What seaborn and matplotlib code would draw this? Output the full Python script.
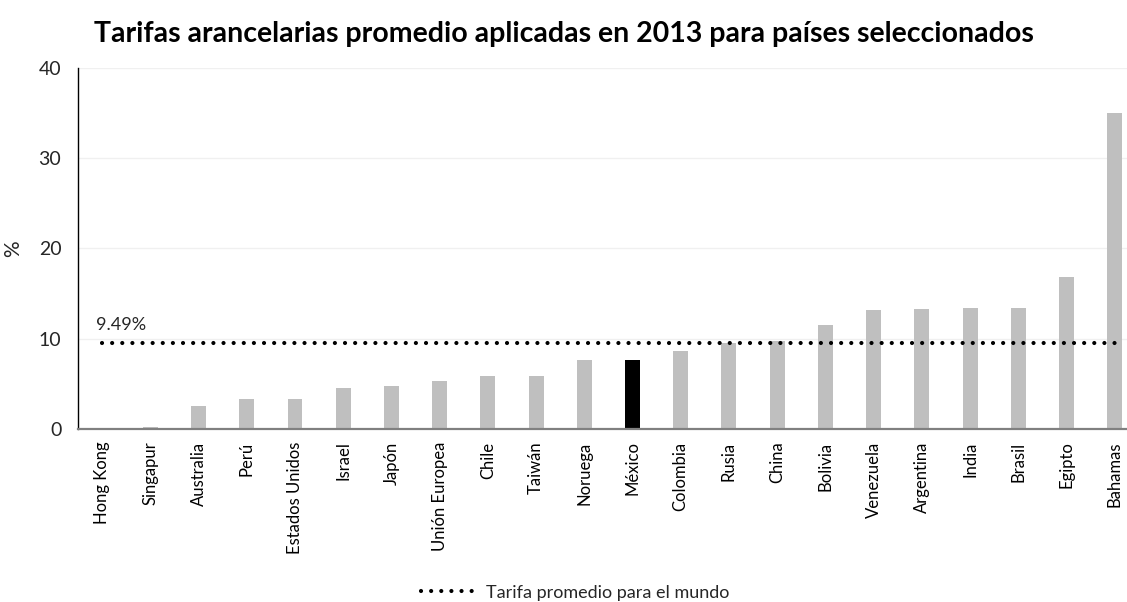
import matplotlib
matplotlib.use("Agg")
import matplotlib.pyplot as plt
from matplotlib.lines import Line2D
import seaborn as sns

# Average applied tariff rates, 2013 (%)
paises = ["Hong Kong", "Singapur", "Australia", "Perú", "Estados Unidos", "Israel",
          "Japón", "Unión Europea", "Chile", "Taiwán", "Noruega", "México",
          "Colombia", "Rusia", "China", "Bolivia", "Venezuela", "Argentina",
          "India", "Brasil", "Egipto", "Bahamas"]
tarifas = [0.0, 0.2, 2.6, 3.3, 3.3, 4.5, 4.75, 5.3, 5.9, 5.9, 7.6, 7.6,
           8.6, 9.5, 9.8, 11.5, 13.2, 13.3, 13.45, 13.45, 16.8, 35.0]
promedio_mundial = 9.49
destacado = "México"

titulo = "Tarifas arancelarias promedio aplicadas en 2013 para países seleccionados"
etiqueta_y = "%"
etiqueta_promedio = "9.49%"
etiqueta_leyenda = "Tarifa promedio para el mundo"
ticks_y = [0, 10, 20, 30, 40]

sns.set_theme(style="white")
plt.rcParams["font.family"] = ["Lato", "DejaVu Sans"]

fig = plt.figure(figsize=(11.27, 6.02), dpi=100)
ax = fig.add_axes([0.0692, 0.2874, 0.9413, 0.5997])

colores = {p: ("#000000" if p == destacado else "#bfbfbf") for p in paises}
sns.barplot(x=paises, y=tarifas, hue=paises, palette=colores, legend=False,
            width=0.31, saturation=1, ax=ax, linewidth=0)

# World average as a dotted line across the categories
linea_estilo = dict(color="black", linewidth=3.0, linestyle=(0, (0.01, 2.42)),
                    dash_capstyle="round")
ax.plot([0, len(paises) - 1], [promedio_mundial, promedio_mundial], **linea_estilo)
ax.text(-0.12, promedio_mundial + 1.15, etiqueta_promedio, fontsize=13,
        color="#262626", va="bottom", ha="left")

ax.set_xlim(-0.5, len(paises) - 0.5)
ax.set_ylim(0, 40)
ax.set_yticks(ticks_y)
ax.set_yticklabels([str(t) for t in ticks_y], fontsize=14, color="#262626")
ax.tick_params(axis="y", length=0, pad=12)
ax.tick_params(axis="x", length=0, pad=9)
ax.set_xticks(range(len(paises)))
ax.set_xticklabels(paises, rotation=90, fontsize=12, color="#000000")
ax.set_ylabel(etiqueta_y, fontsize=15, color="#262626")
ax.yaxis.set_label_coords(-0.052, 0.5)
ax.yaxis.grid(True, color="#f0f0f0", linewidth=1)
ax.set_axisbelow(True)

for lado in ["top", "right"]:
    ax.spines[lado].set_visible(False)
ax.spines["left"].set_color("#000000")
ax.spines["left"].set_linewidth(1)
ax.spines["bottom"].set_color("#808080")
ax.spines["bottom"].set_linewidth(1.6)

fig.suptitle(titulo, x=0.5, y=0.965, fontsize=20.5, fontweight="bold", color="#000000")

manejador = Line2D([], [], **linea_estilo)
fig.legend([manejador], [etiqueta_leyenda], loc="lower center",
           bbox_to_anchor=(0.51, -0.025), frameon=False, fontsize=13,
           handlelength=3.3, handletextpad=0.3)

fig.savefig("out.png", dpi=100)
